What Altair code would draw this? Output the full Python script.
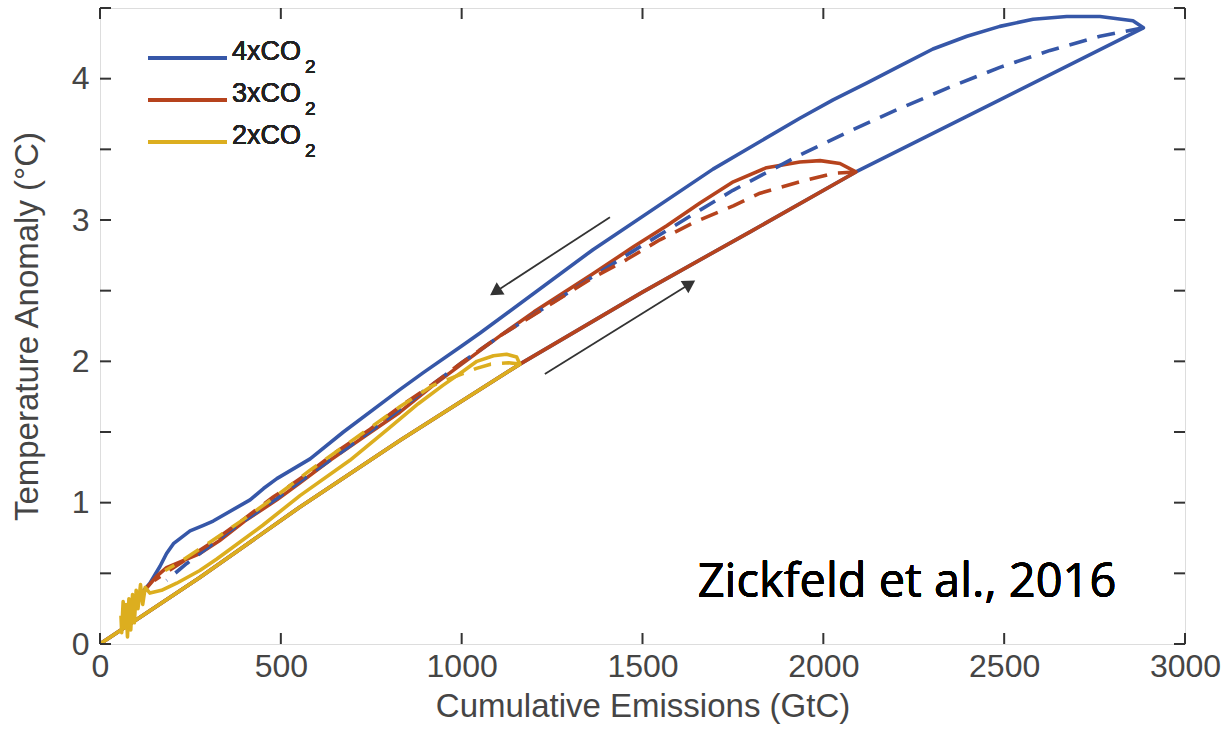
import altair as alt
import pandas as pd

# ---------------- data (GtC, degC) ----------------
BLUE_SOLID_X = [0, 276, 553, 829, 1161, 1500, 1800, 2090, 2488, 2885,
                2856, 2765, 2673, 2580, 2488, 2397, 2303, 2212, 2121, 2027, 1935,
                1695, 1363, 1051, 1001, 894, 829, 673, 581, 489, 452, 415, 313,
                286, 249, 203, 184, 166, 138, 115]
BLUE_SOLID_Y = [0, 0.47, 0.97, 1.44, 1.98, 2.49, 2.92, 3.34, 3.85, 4.36,
                4.41, 4.44, 4.44, 4.42, 4.37, 4.30, 4.21, 4.09, 3.97, 3.85, 3.72,
                3.36, 2.79, 2.20, 2.11, 1.92, 1.80, 1.50, 1.31, 1.17, 1.10, 1.02, 0.87,
                0.84, 0.80, 0.71, 0.64, 0.55, 0.43, 0.36]

RED_SOLID_X = [0, 276, 553, 829, 1161, 1500, 1800, 2090,
               2046, 1991, 1935, 1843, 1751, 1659, 1567, 1475, 1363, 1200, 1106,
               1000, 921, 829, 738, 636, 553, 489, 400, 330, 276, 212, 184, 157,
               130, 111]
RED_SOLID_Y = [0, 0.47, 0.97, 1.44, 1.98, 2.49, 2.92, 3.34,
               3.40, 3.42, 3.41, 3.37, 3.27, 3.12, 2.96, 2.81, 2.62, 2.35, 2.18,
               1.98, 1.83, 1.64, 1.48, 1.30, 1.14, 1.02, 0.87, 0.73, 0.64, 0.57, 0.54, 0.48,
               0.40, 0.33]

YELLOW_SOLID_X = [0, 276, 553, 829, 1161,
                  1152, 1124, 1088, 1042, 1004, 948, 880, 800, 691, 553, 450,
                  322, 276, 212, 170, 138, 125, 118, 112, 105, 100, 95, 90, 85, 80,
                  76, 72, 68, 64, 60, 58]
YELLOW_SOLID_Y = [0, 0.47, 0.97, 1.44, 1.98,
                  2.03, 2.05, 2.04, 2.00, 1.93, 1.83, 1.70, 1.53, 1.30, 1.05, 0.84,
                  0.60, 0.52, 0.43, 0.38, 0.36, 0.40, 0.28, 0.42, 0.25, 0.38, 0.15, 0.35, 0.10, 0.32,
                  0.05, 0.28, 0.12, 0.30, 0.08, 0.20]

BLUE_DASH_X = [2885, 2765, 2627, 2488, 2350, 2212, 2074, 1935, 1750, 1659, 1474,
               1363, 1291, 1106, 1000, 921, 829, 756, 636, 553, 489, 359, 240, 184]
BLUE_DASH_Y = [4.36, 4.30, 4.20, 4.08, 3.94, 3.79, 3.63, 3.46, 3.21, 3.07, 2.78,
               2.60, 2.48, 2.18, 1.99, 1.84, 1.66, 1.52, 1.30, 1.15, 1.03, 0.80, 0.57, 0.45]

RED_DASH_X = [2090, 2027, 1935, 1825, 1751, 1640, 1548, 1456, 1355, 1200, 1106,
              1000, 921, 830, 747, 654, 571, 479, 396, 304, 221, 150]
RED_DASH_Y = [3.34, 3.33, 3.27, 3.19, 3.10, 2.98, 2.86, 2.72, 2.58, 2.33, 2.18,
              1.99, 1.84, 1.68, 1.52, 1.36, 1.20, 1.04, 0.88, 0.71, 0.57, 0.45]

YELLOW_DASH_X = [1161, 1130, 1080, 1041, 980, 921, 830, 747, 664, 581, 489, 396,
                 304, 221, 180]
YELLOW_DASH_Y = [1.98, 1.99, 1.98, 1.95, 1.89, 1.83, 1.68, 1.53, 1.38, 1.23, 1.05, 0.88,
                 0.72, 0.58, 0.52]

SERIES_NAMES = ["4xCO", "3xCO", "2xCO"]
SERIES_COLORS = ["#3657a8", "#b6431d", "#dcae1f"]

X_TICKS = [0, 500, 1000, 1500, 2000, 2500, 3000]
Y_TICKS = [0, 0.5, 1, 1.5, 2, 2.5, 3, 3.5, 4, 4.5]
Y_LABELS = [0, 1, 2, 3, 4]

# arrows (tail -> head), in data units
ARROW_X1 = [1410, 1230]
ARROW_Y1 = [3.02, 1.91]
ARROW_X2 = [1098, 1626]
ARROW_Y2 = [2.50, 2.54]
ARROW_ANGLE = [237, 58]

CITATION = "Zickfeld et al., 2016"

# ---------------- chart ----------------
W, H = 1085, 636
FONT = "Liberation Sans"
GRAY = "#454545"

xs = alt.Scale(domain=[0, 3000], nice=False, zero=False)
ys = alt.Scale(domain=[0, 4.5], nice=False, zero=False)


def path(xv, yv):
    return pd.DataFrame({"x": xv, "y": yv, "i": range(len(xv))})


def line_layer(xv, yv, color, dashed=False, with_axes=False):
    if with_axes:
        xe = alt.X("x:Q", scale=xs, title="Cumulative Emissions (GtC)",
                   axis=alt.Axis(values=X_TICKS, format="d", ticks=False, domain=False,
                                 grid=False, labelFontSize=32, labelColor=GRAY,
                                 labelFont=FONT, labelPadding=7, titleFontSize=33,
                                 titleColor=GRAY, titleFont=FONT,
                                 titleFontWeight="normal", titlePadding=8,
                                 labelFlush=False))
        ye = alt.Y("y:Q", scale=ys, title="Temperature Anomaly (\u00b0C)",
                   axis=alt.Axis(values=Y_LABELS, format="d", ticks=False, domain=False,
                                 grid=False, labelFontSize=32, labelColor=GRAY,
                                 labelFont=FONT, labelPadding=11, titleFontSize=33,
                                 titleColor=GRAY, titleFont=FONT,
                                 titleFontWeight="normal", titlePadding=27,
                                 labelFlush=False))
    else:
        xe = alt.X("x:Q", scale=xs)
        ye = alt.Y("y:Q", scale=ys)
    kw = dict(color=color, strokeWidth=3.6, clip=True, strokeJoin="round", strokeCap="butt")
    if dashed:
        kw["strokeDash"] = [18, 11]
    return alt.Chart(path(xv, yv)).mark_line(**kw).encode(x=xe, y=ye, order="i:Q")


layers = [
    line_layer(BLUE_SOLID_X, BLUE_SOLID_Y, SERIES_COLORS[0], with_axes=True),
    line_layer(RED_SOLID_X, RED_SOLID_Y, SERIES_COLORS[1]),
    line_layer(YELLOW_SOLID_X, YELLOW_SOLID_Y, SERIES_COLORS[2]),
    line_layer(BLUE_DASH_X, BLUE_DASH_Y, SERIES_COLORS[0], dashed=True),
    line_layer(RED_DASH_X, RED_DASH_Y, SERIES_COLORS[1], dashed=True),
    line_layer(YELLOW_DASH_X, YELLOW_DASH_Y, SERIES_COLORS[2], dashed=True),
]

# inward ticks on all four sides
xt = pd.DataFrame({"t": X_TICKS})
yt = pd.DataFrame({"t": Y_TICKS})
TICK = "#333333"
layers.append(alt.Chart(xt).mark_rule(color=TICK, strokeWidth=2).encode(
    x=alt.X("t:Q", scale=xs), y=alt.value(H), y2=alt.value(H - 11)))
layers.append(alt.Chart(xt).mark_rule(color=TICK, strokeWidth=2).encode(
    x=alt.X("t:Q", scale=xs), y=alt.value(0), y2=alt.value(11)))
layers.append(alt.Chart(yt).mark_rule(color=TICK, strokeWidth=2).encode(
    y=alt.Y("t:Q", scale=ys), x=alt.value(0), x2=alt.value(11)))
layers.append(alt.Chart(yt).mark_rule(color=TICK, strokeWidth=2).encode(
    y=alt.Y("t:Q", scale=ys), x=alt.value(W), x2=alt.value(W - 11)))

# arrows
arr = pd.DataFrame({"x1": ARROW_X1, "y1": ARROW_Y1, "x2": ARROW_X2, "y2": ARROW_Y2,
                    "a": ARROW_ANGLE})
layers.append(alt.Chart(arr).mark_rule(color="#333333", strokeWidth=1.8).encode(
    x=alt.X("x1:Q", scale=xs), y=alt.Y("y1:Q", scale=ys), x2="x2:Q", y2="y2:Q"))
layers.append(alt.Chart(arr).mark_point(shape="triangle", filled=True, color="#333333",
                                        size=210, opacity=1).encode(
    x=alt.X("x2:Q", scale=xs), y=alt.Y("y2:Q", scale=ys),
    angle=alt.Angle("a:Q", scale=None)))

# manual legend
for k, (name, col) in enumerate(zip(SERIES_NAMES, SERIES_COLORS)):
    yy = 50 + 42 * k
    layers.append(alt.Chart(xt).mark_rule(color=col, strokeWidth=4).encode(
        x=alt.value(48), x2=alt.value(127), y=alt.value(yy)))
    layers.append(alt.Chart(xt).mark_text(text=name, align="left", baseline="alphabetic",
                                          font=FONT, fontSize=27, color="#222222").encode(
        x=alt.value(132), y=alt.value(yy + 2)))
    layers.append(alt.Chart(xt).mark_text(text="2", align="left", baseline="alphabetic",
                                          font=FONT, fontSize=19, color="#222222").encode(
        x=alt.value(205), y=alt.value(yy + 15)))

# citation
layers.append(alt.Chart(xt).mark_text(text=CITATION, align="center", baseline="alphabetic",
                                      font="Open Sans", fontSize=47, fontWeight=400,
                                      color="#000000").encode(
    x=alt.value(807), y=alt.value(589)))

chart = alt.layer(*layers).properties(
    width=W, height=H,
    padding={"left": 100, "top": 8, "right": 45, "bottom": 87},
    autosize=alt.AutoSizeParams(type="none"),
).configure_view(stroke="#333333", strokeWidth=2.2).configure(background="white")

chart.save("out.html", embed_options={"renderer": "svg", "actions": False})
